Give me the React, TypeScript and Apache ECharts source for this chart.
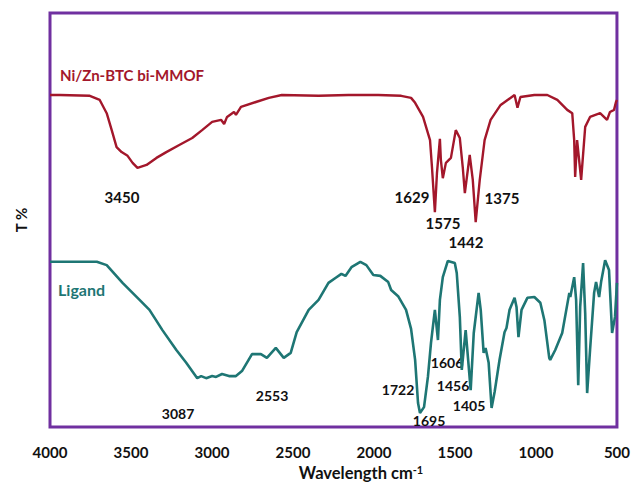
import React, { useEffect, useRef } from "react";
import * as echarts from "echarts";

const xTicks = [4000, 3500, 3000, 2500, 2000, 1500, 1000, 500];

const mofWavenumber = [
  4000, 3939, 3754, 3693, 3650, 3619, 3589, 3558, 3521, 3490,
  3460, 3404, 3343, 3282, 3202, 3122, 3061, 2999, 2944, 2925,
  2907, 2864, 2852, 2821, 2729, 2649, 2569, 2342, 2158, 1974,
  1832, 1771, 1746, 1697, 1654, 1642, 1624, 1611, 1593, 1587,
  1575, 1556, 1525, 1495, 1470, 1452, 1439, 1409, 1390, 1372,
  1347, 1317, 1280, 1218, 1132, 1114, 1096, 1010, 930, 868,
  807, 776, 764, 758, 746, 721, 696, 666, 604, 561,
  543, 518, 506, 500,
];
const mofTransmittance = [
  80.2, 80.2, 80.0, 79.0, 75.8, 71.7, 67.6, 66.4, 65.5, 63.8,
  62.6, 63.3, 65.0, 66.4, 68.1, 69.8, 71.7, 73.7, 74.2, 73.2,
  74.9, 76.1, 75.4, 77.3, 78.5, 79.5, 80.2, 80.0, 80.2, 80.2,
  80.0, 79.5, 78.3, 74.9, 69.3, 62.8, 51.9, 61.4, 69.6, 64.5,
  60.1, 63.8, 65.0, 71.7, 69.8, 62.8, 56.5, 65.7, 59.7, 49.5,
  59.7, 69.3, 74.2, 77.8, 80.2, 77.1, 79.7, 80.2, 80.2, 79.0,
  76.6, 75.8, 69.3, 60.4, 69.3, 59.7, 72.5, 74.9, 75.8, 74.2,
  76.1, 76.6, 78.5, 79.0,
];

const ligandWavenumber = [
  4000, 3877, 3711, 3650, 3552, 3447, 3386, 3306, 3220, 3159, 3091, 3067, 3036, 2999, 2975, 2938, 2895,
  2852, 2815, 2753, 2698, 2661, 2606, 2557, 2514, 2477, 2403, 2342, 2281, 2238, 2201, 2176, 2139, 2084,
  2047, 2004, 1961, 1912, 1894, 1851, 1802, 1771, 1746, 1728, 1716, 1691, 1667, 1648, 1624, 1605, 1593,
  1575, 1544, 1501, 1489, 1470, 1458, 1434, 1403, 1384, 1354, 1341, 1323, 1311, 1292, 1274, 1255, 1225,
  1194, 1182, 1163, 1132, 1120, 1108, 1089, 1053, 1010, 973, 948, 918, 912, 881, 838, 794, 788, 764, 752,
  739, 727, 709, 696, 684, 666, 641, 629, 610, 598, 573, 549, 530, 512, 500,
];
const ligandTransmittance = [
  39.9, 39.9, 39.9, 39.1, 34.8, 30.7, 28.3, 23.4, 18.6, 15.5, 11.8, 12.3, 11.8, 12.3, 12.1, 12.8, 12.3,
  12.3, 13.5, 17.6, 17.6, 16.7, 19.1, 16.7, 17.9, 22.9, 28.3, 30.7, 34.8, 36.0, 37.0, 36.5, 38.6, 39.9,
  39.1, 36.7, 36.5, 35.0, 33.1, 31.6, 28.3, 23.7, 16.2, 5.8, 3.4, 4.8, 12.1, 20.3, 28.3, 21.0, 30.7,
  36.2, 40.1, 39.6, 37.2, 26.6, 13.8, 23.4, 8.9, 22.7, 32.4, 28.3, 17.9, 19.1, 15.5, 4.6, 8.5, 16.2,
  22.9, 23.9, 28.3, 31.2, 29.0, 21.7, 28.3, 31.2, 31.4, 30.0, 25.8, 16.7, 16.2, 18.6, 22.7, 32.4, 31.4,
  36.2, 30.7, 10.1, 29.0, 39.6, 27.5, 8.2, 18.6, 32.4, 35.0, 31.4, 35.0, 40.3, 37.9, 22.7, 26.6, 34.8,
];

const mofName = "Ni/Zn-BTC bi-MMOF";
const ligandName = "Ligand";
const mofPeakLabels = ["3450", "1629", "1575", "1442", "1375"];
const ligandPeakLabels = ["3087", "2553", "1722", "1695", "1606", "1456", "1405"];

const RED = "#A3172B";
const TEAL = "#1E7674";
const PURPLE = "#7030A0";
const FONT = "Lato, 'Open Sans', sans-serif";

export default function App() {
  const ref = useRef<HTMLDivElement>(null);
  useEffect(() => {
    if (!ref.current) return;
    const chart = echarts.init(ref.current, null, { renderer: "svg" });
    const mofData = mofWavenumber.map((w, i) => [w, mofTransmittance[i]]);
    const ligData = ligandWavenumber.map((w, i) => [w, ligandTransmittance[i]]);
    const mofPos = [
      [122, 197],
      [412, 197],
      [443, 223],
      [466, 242],
      [502, 198],
    ];
    const ligPos = [
      [178, 413],
      [272, 395],
      [398, 389],
      [429, 420],
      [447, 362],
      [453, 385],
      [469, 405],
    ];
    const peakText = (labels: string[], pos: number[][], fs: number) =>
      labels.map((t, i) => ({
        type: "text",
        x: pos[i][0],
        y: pos[i][1],
        style: {
          text: t,
          fill: "#111",
          font: `bold ${fs}px ${FONT}`,
          textAlign: "center",
          textVerticalAlign: "middle",
        },
      }));
    chart.setOption({
      animation: false,
      grid: {
        left: 50,
        right: 13,
        top: 13,
        bottom: 56,
        show: true,
        borderColor: PURPLE,
        borderWidth: 3,
        backgroundColor: "transparent",
      },
      xAxis: {
        type: "value",
        inverse: true,
        min: 500,
        max: 4000,
        interval: 500,
        axisLine: { show: false },
        axisTick: { show: false },
        splitLine: { show: false },
        axisLabel: {
          color: "#111",
          fontWeight: "bold",
          fontSize: 15,
          fontFamily: FONT,
          margin: 17,
          formatter: (v: number) => (xTicks.includes(v) ? String(v) : ""),
        },
      },
      yAxis: {
        type: "value",
        min: 0,
        max: 100,
        axisLine: { show: false },
        axisTick: { show: false },
        axisLabel: { show: false },
        splitLine: { show: false },
        name: "T %",
        nameLocation: "middle",
        nameGap: 22,
        nameTextStyle: { color: "#111", fontWeight: "bold", fontSize: 15, fontFamily: FONT },
      },
      series: [
        {
          type: "line",
          name: mofName,
          data: mofData,
          showSymbol: false,
          lineStyle: { color: RED, width: 2.4 },
          itemStyle: { color: RED },
        },
        {
          type: "line",
          name: ligandName,
          data: ligData,
          showSymbol: false,
          lineStyle: { color: TEAL, width: 2.6 },
          itemStyle: { color: TEAL },
        },
      ],
      graphic: [
        {
          type: "text",
          x: 60,
          y: 75,
          style: {
            text: mofName,
            fill: RED,
            font: `bold 15px ${FONT}`,
            textVerticalAlign: "middle",
          },
        },
        {
          type: "text",
          x: 58,
          y: 289,
          style: {
            text: ligandName,
            fill: TEAL,
            font: `bold 16px ${FONT}`,
            textVerticalAlign: "middle",
          },
        },
        ...peakText(mofPeakLabels, mofPos, 15),
        ...peakText(ligandPeakLabels, ligPos, 14),
        {
          type: "text",
          x: 361,
          y: 473,
          style: {
            text: "Wavelength cm{sup|-1}",
            fill: "#111",
            font: `bold 16.5px ${FONT}`,
            textAlign: "center",
            textVerticalAlign: "middle",
            rich: {
              sup: { fontSize: 11, fontWeight: "bold", fontFamily: FONT, verticalAlign: "top", padding: [0, 0, 8, 0], fill: "#111" },
            },
          },
        },
      ],
    });
    return () => chart.dispose();
  }, []);
  return (
    <div
      ref={ref}
      style={{ position: "fixed", left: 0, top: 0, width: 633, height: 483, background: "#fff" }}
    />
  );
}
